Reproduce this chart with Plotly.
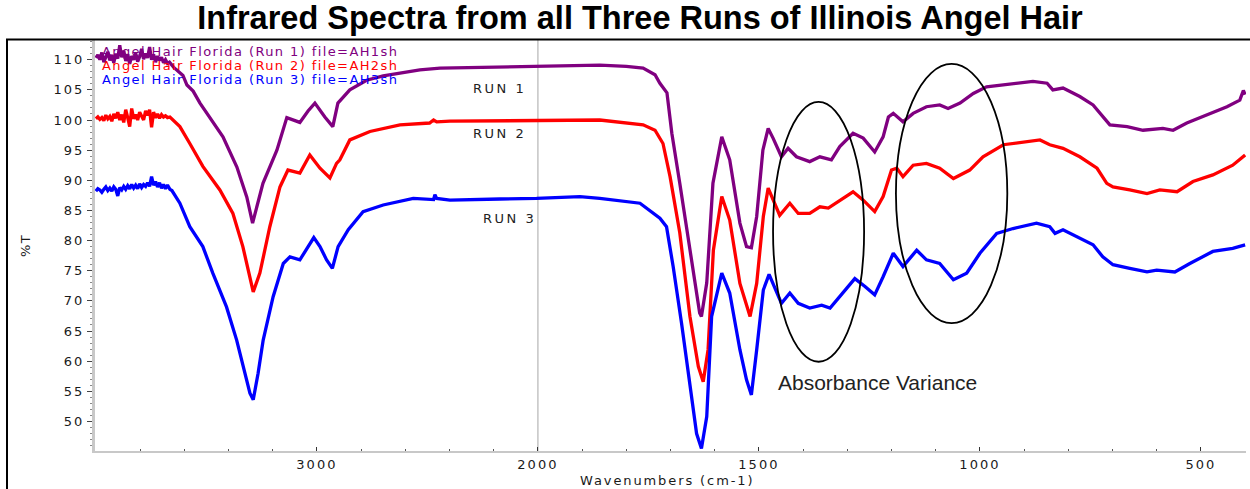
import plotly.graph_objects as go

# ---------------- data (wavenumber cm-1, %T) ----------------
run1_wn = [4000, 3991, 3982, 3973, 3964, 3955, 3946, 3937, 3928, 3919,
           3910, 3901, 3892, 3883, 3874, 3865, 3856, 3847, 3838, 3829,
           3820, 3811, 3802, 3793, 3784, 3775, 3766, 3757, 3748, 3739,
           3730, 3721, 3712, 3703, 3694, 3685, 3676, 3667, 3656, 3645,
           3634, 3606, 3588, 3560, 3529, 3480, 3425, 3362, 3317, 3291,
           3270, 3244, 3181, 3136, 3077, 3040, 3009, 2964, 2928, 2905,
           2851, 2775, 2700, 2624, 2534, 2443, 2300, 2172, 2050, 1995,
           1905, 1860, 1800, 1762, 1735, 1724, 1708, 1697, 1679, 1656,
           1634, 1630, 1618, 1604, 1584, 1566, 1543, 1528, 1517, 1505,
           1491, 1479, 1468, 1449, 1434, 1415, 1385, 1362, 1336, 1317,
           1287, 1264, 1238, 1219, 1207, 1196, 1174, 1151, 1121, 1091,
           1072, 1045, 1015, 985, 948, 925, 880, 848, 835, 812,
           774, 744, 722, 706, 667, 631, 586, 563, 532, 486,
           441, 412, 404, 400]
run1_t = [110.3, 110.8, 110.0, 111.2, 109.6, 110.5, 111.3, 109.9, 110.8, 109.5,
          111.0, 110.2, 112.4, 110.4, 111.5, 109.8, 110.9, 109.3, 110.6, 110.0,
          111.1, 109.7, 110.5, 111.8, 110.1, 111.0, 110.3, 112.1, 110.0, 110.9,
          109.6, 110.6, 109.9, 110.4, 109.5, 110.0, 109.4, 109.6, 109.0, 108.6,
          108.3, 107.4, 105.8, 104.8, 102.8, 100.2, 97.2, 92.2, 87.2, 82.9,
          86.0, 89.5, 95.0, 100.4, 99.6, 101.5, 102.8, 100.5, 98.9, 102.8,
          105.0, 106.6, 107.3, 107.7, 108.3, 108.6, 108.7, 108.8, 108.9, 109.0,
          109.0, 109.1, 108.9, 108.6, 107.5, 106.1, 104.5, 97.8, 89.5, 78.4,
          68.0, 67.4, 73.0, 89.5, 97.2, 93.4, 82.9, 79.0, 78.8, 84.0,
          95.0, 98.6, 97.0, 93.9, 95.3, 93.9, 93.1, 93.9, 93.4, 95.6,
          97.8, 97.0, 94.7, 97.2, 100.5, 101.1, 99.7, 101.1, 102.2, 102.5,
          101.9, 102.8, 104.4, 105.5, 105.8, 106.1, 106.4, 106.1, 105.0, 105.3,
          103.9, 102.5, 100.5, 99.2, 98.9, 98.3, 98.6, 98.3, 99.5, 100.8,
          102.2, 103.3, 104.9, 104.2]

run2_wn = [4000, 3991, 3982, 3973, 3964, 3955, 3946, 3937, 3928, 3919,
           3910, 3901, 3892, 3883, 3874, 3865, 3856, 3847, 3838, 3829,
           3820, 3811, 3802, 3793, 3784, 3775, 3766, 3757, 3748, 3739,
           3730, 3721, 3712, 3703, 3694, 3685, 3676, 3665,
           3620, 3575, 3516, 3439, 3380, 3335, 3303, 3288, 3258, 3213,
           3167, 3131, 3077, 3032, 2986, 2941, 2911, 2896, 2851, 2760,
           2624, 2490, 2472, 2458, 2398, 2172, 1995, 1860, 1762, 1735,
           1717, 1701, 1679, 1656, 1637, 1626, 1615, 1603, 1584, 1566,
           1543, 1520, 1505, 1490, 1479, 1468, 1453, 1430, 1411, 1385,
           1362, 1343, 1317, 1287, 1264, 1238, 1219, 1200, 1188, 1174,
           1151, 1121, 1091, 1060, 1023, 993, 947, 894, 864, 842,
           812, 774, 735, 713, 699, 661, 622, 593, 554, 518,
           473, 428, 400]
run2_t = [100.2, 100.5, 100.1, 100.4, 99.9, 100.8, 100.2, 100.6, 99.8, 101.0,
          100.3, 101.3, 100.0, 100.9, 99.6, 101.7, 100.4, 98.9, 101.9, 100.2,
          100.9, 100.0, 101.3, 100.5, 100.0, 101.5, 100.8, 101.7, 98.8, 101.3,
          100.4, 101.0, 100.3, 100.9, 100.5, 100.7, 100.4, 100.5,
          98.9, 96.1, 92.3, 88.4, 84.5, 79.0, 73.5, 71.5, 74.6, 82.3,
          88.9, 91.7, 91.2, 94.2, 92.0, 90.4, 92.8, 93.4, 96.7, 98.1,
          99.2, 99.5, 100.0, 99.7, 99.8, 99.9, 100.0, 100.0, 99.2, 98.3,
          96.1, 90.6, 81.3, 67.4, 59.1, 56.6, 61.9, 78.4, 87.3, 83.4,
          72.9, 67.4, 72.9, 84.0, 88.7, 86.7, 84.2, 86.2, 84.5, 84.5,
          85.6, 85.4, 86.7, 88.1, 86.7, 84.8, 87.3, 91.7, 92.0, 90.6,
          92.5, 92.8, 92.0, 90.3, 91.7, 93.9, 95.9, 96.4, 96.7, 95.9,
          95.3, 93.9, 92.0, 89.5, 88.9, 88.4, 87.8, 88.4, 88.1, 89.8,
          90.9, 92.5, 94.2]

run3_wn = [4000, 3991, 3982, 3973, 3964, 3955, 3946, 3937, 3928, 3919,
           3910, 3901, 3892, 3883, 3874, 3865, 3856, 3847, 3838, 3829,
           3820, 3811, 3802, 3793, 3784, 3775, 3766, 3757, 3748, 3739,
           3730, 3721, 3712, 3703, 3694, 3685, 3676, 3665, 3656,
           3620, 3575, 3516, 3471, 3409, 3363, 3326, 3303, 3288,
           3266, 3243, 3198, 3152, 3122, 3077, 3014, 2986, 2956, 2930,
           2904, 2858, 2791, 2700, 2564, 2472, 2466, 2458, 2398, 2172,
           2006, 1905, 1860, 1769, 1724, 1709, 1694, 1675, 1656, 1641,
           1630, 1618, 1607, 1584, 1566, 1543, 1528, 1517, 1505, 1490,
           1477, 1468, 1449, 1430, 1411, 1385, 1358, 1339, 1317, 1283,
           1260, 1238, 1219, 1196, 1174, 1143, 1121, 1091, 1060, 1030,
           1000, 962, 925, 872, 842, 830, 812, 774, 744, 722,
           699, 661, 622, 600, 559, 525, 473, 428, 400]
run3_t = [88.2, 88.6, 88.4, 88.0, 88.5, 88.9, 88.3, 88.7, 88.2, 88.9,
          88.5, 87.4, 88.8, 88.4, 89.0, 88.5, 89.1, 88.6, 89.3, 88.7,
          89.2, 88.6, 89.4, 88.8, 89.3, 89.0, 89.6, 89.0, 90.6, 89.2,
          89.8, 88.9, 89.6, 88.7, 89.3, 88.6, 89.2, 88.5, 88.3,
          86.2, 82.3, 79.0, 74.6, 69.0, 63.5, 58.0, 54.7, 53.6,
          58.0, 63.5, 70.7, 76.2, 77.3, 76.8, 80.5, 79.0, 76.8, 75.4,
          79.0, 81.8, 84.8, 85.9, 87.0, 86.8, 87.6, 87.0, 86.7, 86.9,
          87.0, 87.3, 87.0, 86.2, 83.7, 82.3, 75.7, 66.3, 56.3, 48.0,
          45.5, 50.8, 67.4, 74.6, 71.3, 61.9, 56.9, 54.4, 61.9, 71.8,
          74.4, 72.9, 69.6, 71.3, 69.6, 68.8, 69.3, 68.8, 70.7, 73.7,
          72.4, 71.0, 74.0, 77.9, 75.7, 78.4, 76.8, 76.2, 73.5, 74.6,
          77.9, 81.2, 82.0, 82.9, 82.3, 81.2, 81.8, 80.4, 79.3, 77.3,
          76.0, 75.4, 74.8, 75.1, 74.8, 76.2, 78.2, 78.7, 79.3]

run_names = ["Angel Hair Florida (Run 1) file=AH1sh",
             "Angel Hair Florida (Run 2) file=AH2sh",
             "Angel Hair Florida (Run 3) file=AH3sh"]
run_labels = ["RUN 1", "RUN 2", "RUN 3"]
x_tick_values = [3000, 2000, 1500, 1000, 500]
y_tick_values = [50, 55, 60, 65, 70, 75, 80, 85, 90, 95, 100, 105, 110]

colors = ["#800080", "#ff0000", "#0000ff"]

assert len(run1_wn) == len(run1_t)
assert len(run2_wn) == len(run2_t)
assert len(run3_wn) == len(run3_t)


# Instrument display: region above 2000 cm-1 is compressed by a factor of 2
def to_axis(w):
    return w if w <= 2000 else 2000 + (w - 2000) / 2.0


def spaced(text, px):
    return '<span style="letter-spacing:%spx">%s</span>' % (px, text)


GRAMS_FONT = "DejaVu Sans"

fig = go.Figure()
for wn, t, c, name in [(run1_wn, run1_t, colors[0], run_names[0]),
                       (run2_wn, run2_t, colors[1], run_names[1]),
                       (run3_wn, run3_t, colors[2], run_names[2])]:
    fig.add_trace(go.Scatter(x=[to_axis(w) for w in wn], y=t, mode="lines",
                             line=dict(color=c, width=3.3), name=name,
                             hoverinfo="skip"))

W, H = 1250, 489
ML, MR, MT, MB = 95, 4, 40, 38
PW, PH = W - ML - MR, H - MT - MB


def px_x(x):
    return (x - ML) / PW


def px_y(y):
    return (H - MB - y) / PH


fig.update_layout(
    width=W, height=H,
    margin=dict(l=ML, r=MR, t=MT, b=MB),
    paper_bgcolor="white", plot_bgcolor="white",
    showlegend=False,
    hovermode=False,
    title=dict(text="<b>Infrared Spectra from all Three Runs of Illinois Angel Hair</b>",
               x=640 / W, xanchor="center", xref="container",
               y=1 - 18 / H, yanchor="middle", yref="container",
               font=dict(family="Liberation Sans, Arial", size=32.5, color="black")),
    xaxis=dict(range=[to_axis(4004), to_axis(398)],
               tickvals=[to_axis(v) for v in x_tick_values],
               ticktext=[spaced(str(v), 2) for v in x_tick_values],
               tickfont=dict(family=GRAMS_FONT, size=13, color="#1a1a1a"),
               ticks="inside", ticklen=4, tickwidth=1, tickcolor="#333",
               minor=dict(dtick=100, tick0=0, ticks="inside", ticklen=2,
                          tickcolor="#555", showgrid=False),
               showline=True, linecolor="#c8c8c8", linewidth=2,
               showgrid=False, zeroline=False, fixedrange=True),
    yaxis=dict(range=[45.1, 113.27],
               tickvals=y_tick_values,
               ticktext=[spaced(str(v), 2) for v in y_tick_values],
               tickfont=dict(family=GRAMS_FONT, size=13, color="#1a1a1a"),
               ticks="outside", ticklen=5, tickwidth=1, tickcolor="#444",
               minor=dict(dtick=1, tick0=0, ticks="outside", ticklen=2,
                          tickcolor="#888", showgrid=False),
               showline=True, linecolor="#c8c8c8", linewidth=3,
               showgrid=False, zeroline=False, fixedrange=True),
)

shapes = [
    # vertical separator at 2000 cm-1 (scale change)
    dict(type="line", xref="x", yref="paper", x0=to_axis(2000), x1=to_axis(2000),
         y0=0, y1=1, line=dict(color="#c4c4c4", width=1.5), layer="below"),
    # ellipses highlighting absorbance variance
    dict(type="circle", xref="x", yref="y", x0=to_axis(1468), x1=to_axis(1262),
         y0=59.9, y1=103.0, line=dict(color="black", width=1.8)),
    dict(type="circle", xref="x", yref="y", x0=to_axis(1190), x1=to_axis(938),
         y0=66.3, y1=109.3, line=dict(color="black", width=1.8)),
    # outer frame
    dict(type="rect", xref="paper", yref="paper", x0=px_x(7), x1=px_x(1254),
         y0=px_y(500), y1=px_y(39.5), line=dict(color="black", width=2)),
]
fig.update_layout(shapes=shapes)

ann = []
legend_y = [51.5, 65, 79]
for name, c, yy in zip(run_names, colors, legend_y):
    ann.append(dict(text=spaced(name, 1.4), xref="paper", yref="paper",
                    x=px_x(100), y=px_y(yy), xanchor="left", yanchor="middle",
                    showarrow=False, font=dict(family=GRAMS_FONT, size=13, color=c)))

run_label_pos = [(2173, 105.3), (2172, 97.7), (2127, 83.7)]
for lab, (w, t) in zip(run_labels, run_label_pos):
    ann.append(dict(text=spaced(lab, 2.5), xref="x", yref="y", x=to_axis(w), y=t,
                    xanchor="center", yanchor="middle", showarrow=False,
                    font=dict(family=GRAMS_FONT, size=13, color="#222")))

ann.append(dict(text="Absorbance Variance", xref="x", yref="y", x=to_axis(1232), y=56.45,
                xanchor="center", yanchor="middle", showarrow=False,
                font=dict(family="Liberation Sans, Arial", size=21, color="#222")))
ann.append(dict(text=spaced("Wavenumbers (cm-1)", 1.9), xref="paper", yref="paper",
                x=px_x(667), y=px_y(480), xanchor="center", yanchor="middle",
                showarrow=False, font=dict(family=GRAMS_FONT, size=13, color="#1a1a1a")))
ann.append(dict(text=spaced("%T", 1.5), xref="paper", yref="paper",
                x=px_x(25), y=px_y(246), xanchor="center", yanchor="middle",
                textangle=-90, showarrow=False,
                font=dict(family=GRAMS_FONT, size=13, color="#1a1a1a")))
fig.update_layout(annotations=ann)

# remove the default page margin so the 1250x489 figure fills the window exactly
fig.write_html("out.html",
               config={"displayModeBar": False, "staticPlot": True},
               post_script="document.body.style.margin='0px';"
                           "document.body.style.overflow='hidden';")
